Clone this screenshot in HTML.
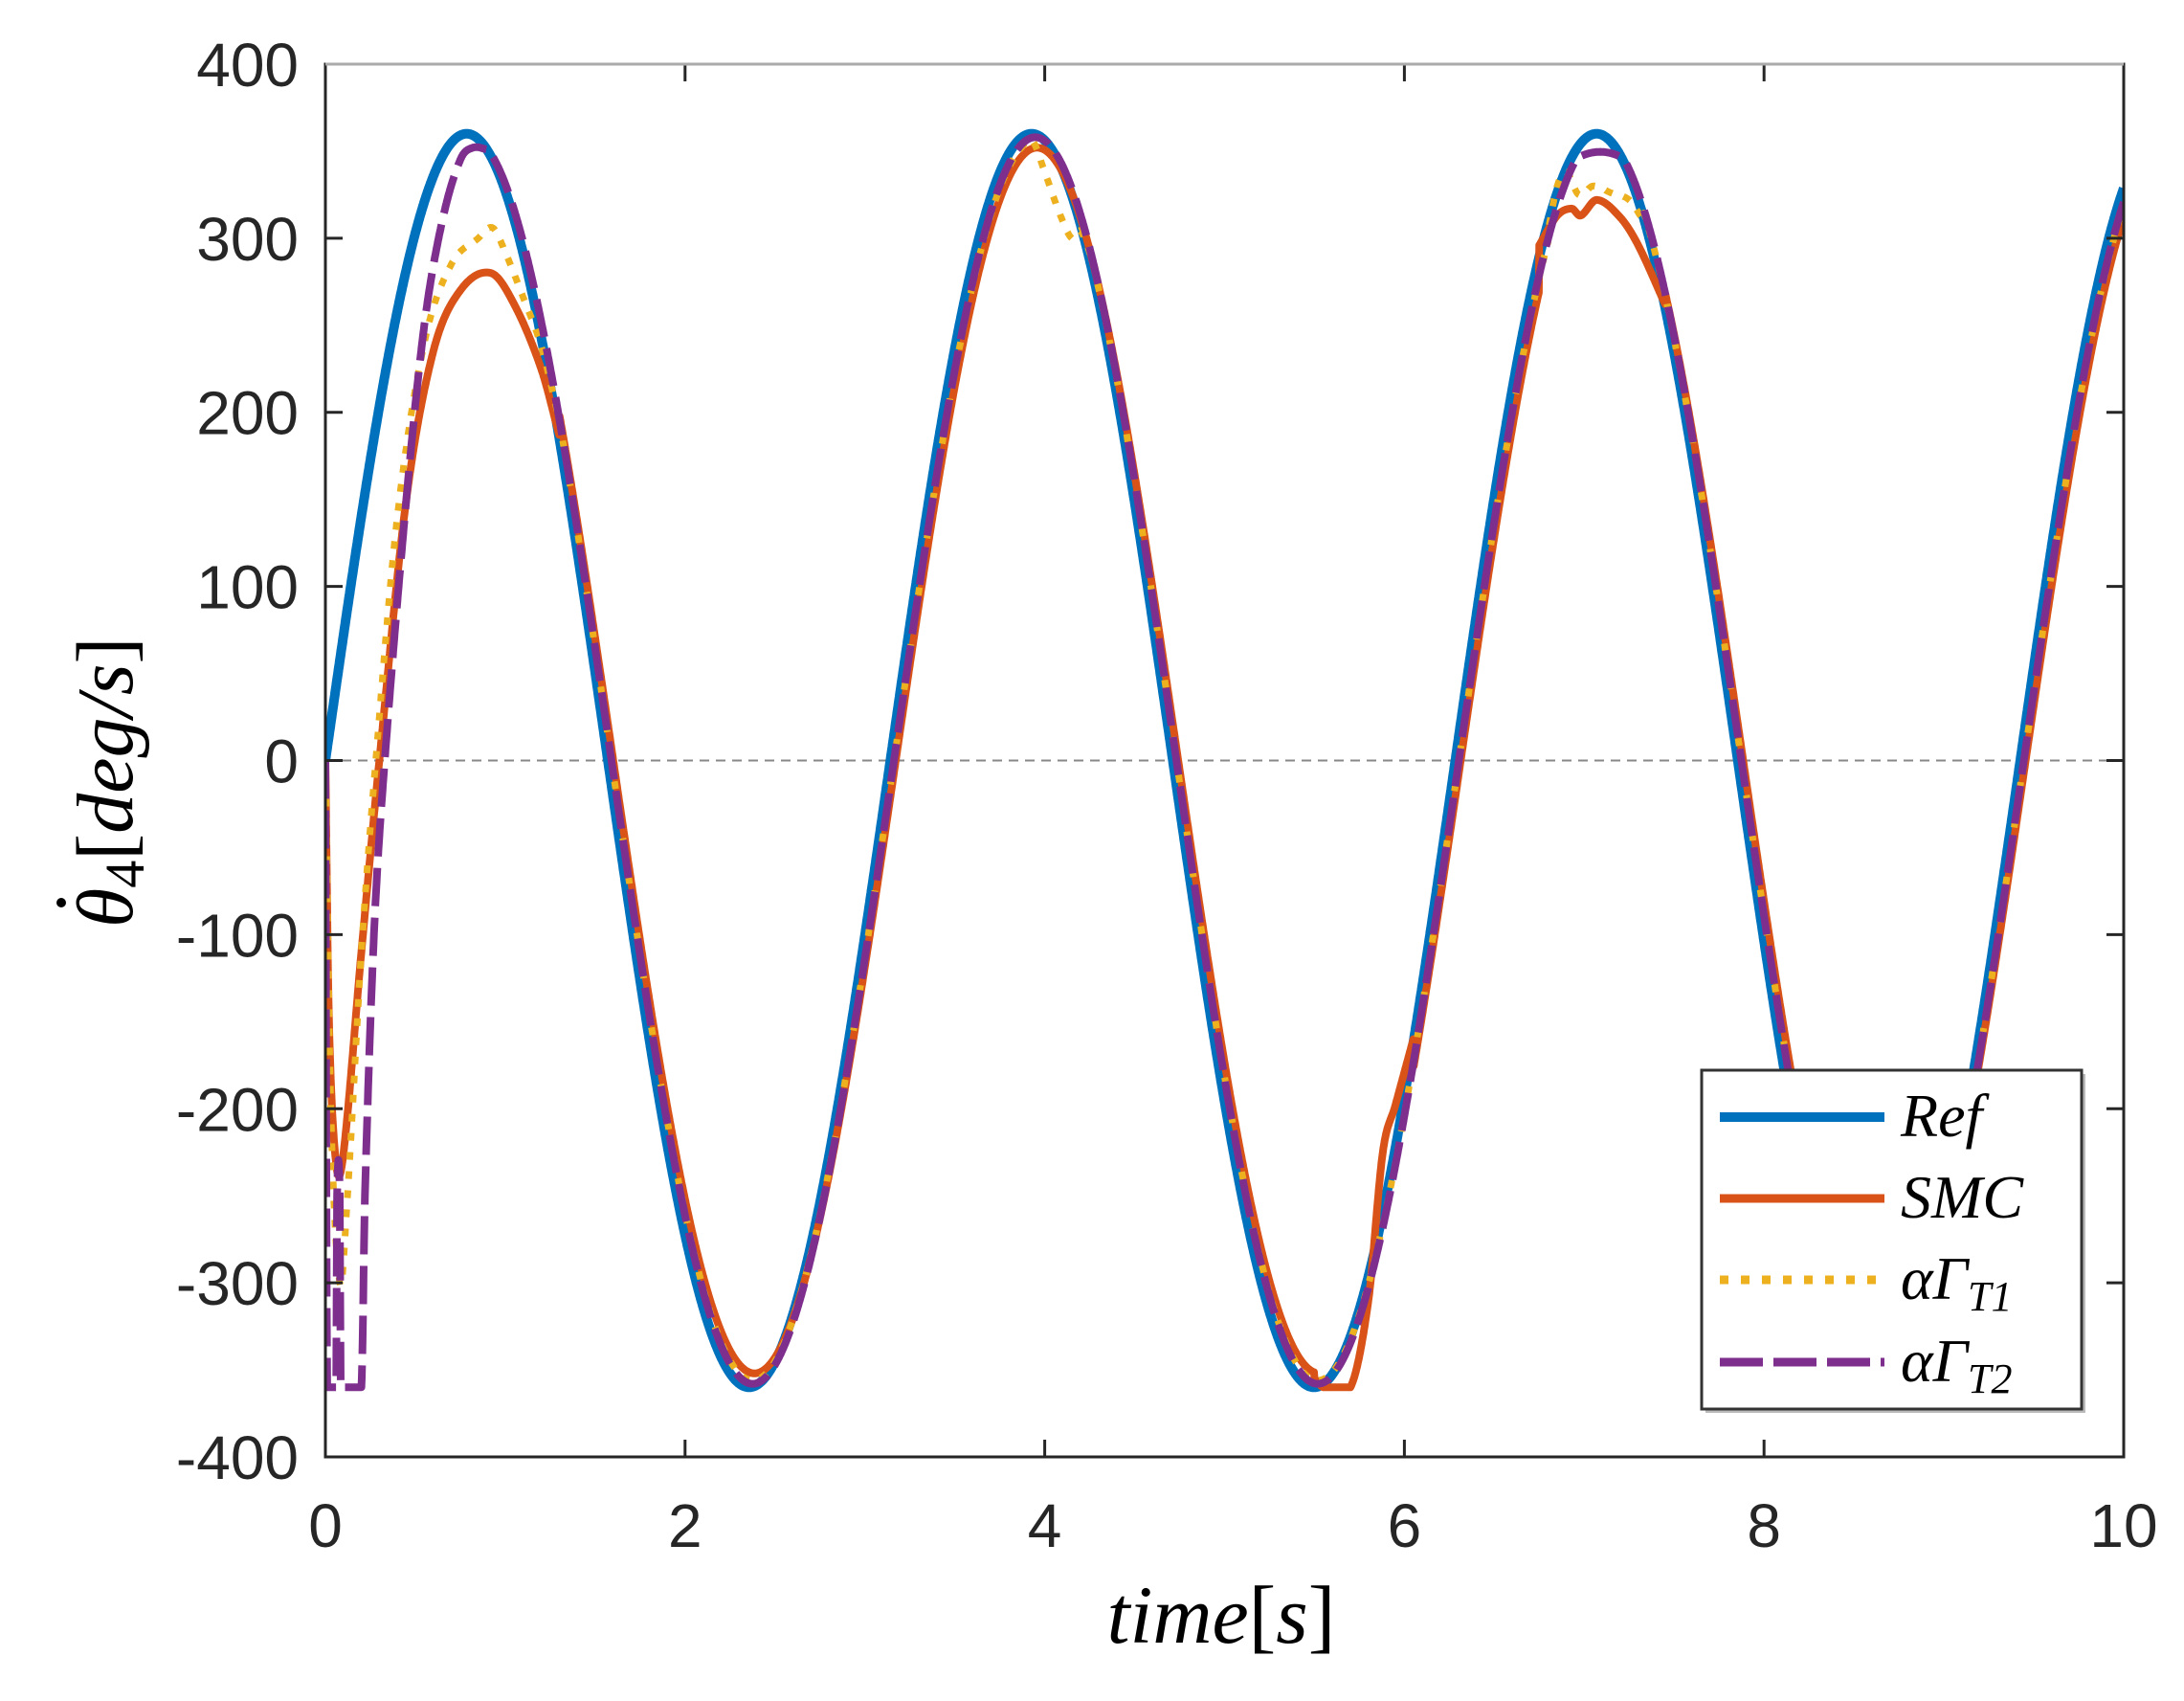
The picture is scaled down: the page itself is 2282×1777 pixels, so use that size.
<!DOCTYPE html>
<html><head><meta charset="utf-8">
<style>
html,body{margin:0;padding:0;background:#fff;}
svg{display:block;}
.tk{font-family:"Liberation Sans",sans-serif;font-size:64px;fill:#262626;}
.m{font-family:"Liberation Serif",serif;font-style:italic;fill:#000;}
</style></head>
<body>
<svg id="s" width="2282" height="1777" viewBox="0 0 2282 1777" xmlns="http://www.w3.org/2000/svg">
<rect width="2282" height="1777" fill="#fff"/>
<defs><clipPath id="c"><rect x="340" y="67" width="1879" height="1455"/></clipPath></defs>
<line x1="340" y1="794.5" x2="2219" y2="794.5" stroke="#888" stroke-width="2" stroke-dasharray="10,7"/>
<g id="curves" clip-path="url(#c)" fill="none" stroke-linejoin="round"></g>
<g id="ticks" stroke="#262626" stroke-width="3"></g>
<rect x="340" y="67" width="1879" height="1455" fill="none" stroke="#262626" stroke-width="3"/>
<line x1="340" y1="67" x2="2219" y2="67" stroke="#aaa" stroke-width="3"/>
<g id="labels"></g>
<!-- legend -->
<rect x="1782" y="1122" width="397" height="354" fill="#bbb"/>
<rect x="1778" y="1118" width="397" height="354" fill="#fff" stroke="#333" stroke-width="3"/>
<line x1="1797" y1="1167" x2="1969" y2="1167" stroke="#0072BD" stroke-width="10"/>
<line x1="1797" y1="1252" x2="1969" y2="1252" stroke="#D95319" stroke-width="9"/>
<line x1="1797" y1="1337" x2="1969" y2="1337" stroke="#EDB120" stroke-width="9" stroke-dasharray="9,13"/>
<line x1="1797" y1="1423" x2="1969" y2="1423" stroke="#7E2F8E" stroke-width="9" stroke-dasharray="45,11"/>
<text class="m" x="1986" y="1187" font-size="64">Ref</text>
<text class="m" x="1986" y="1272" font-size="64">SMC</text>
<text class="m" x="1986" y="1357" font-size="64">αΓ<tspan font-size="44" dy="12">T1</tspan></text>
<text class="m" x="1986" y="1443" font-size="64">αΓ<tspan font-size="44" dy="12">T2</tspan></text>
<!-- axis labels -->
<text class="m" x="1276" y="1716" font-size="86" text-anchor="middle">time<tspan font-style="normal">[</tspan>s<tspan font-style="normal">]</tspan></text>
<g transform="translate(138,797) rotate(-90)">
<text class="m" x="-172" y="0" font-size="84">θ<tspan font-style="normal" font-size="58" dy="12">4</tspan><tspan font-style="normal" dy="-12">[</tspan>deg/s<tspan font-style="normal">]</tspan></text>
<circle cx="-146" cy="-74" r="5" fill="#000"/>
</g>
</svg>
<script>
(function(){
var NS="http://www.w3.org/2000/svg";
function X(t){return 340+t*187.9;}
function Y(v){return 794.5-v*1.8188;}
function ref(t){return 360*Math.sin(2*t);}
function interp(k,t){for(var i=0;i<k.length-1;i++){if(t>=k[i][0]&&t<=k[i+1][0]){
 var p0=k[Math.max(0,i-1)],p1=k[i],p2=k[i+1],p3=k[Math.min(k.length-1,i+2)];
 var h=p2[0]-p1[0],a=(t-p1[0])/h;
 var m1=(p2[1]-p0[1])/(p2[0]-p0[0]||1)*h, m2=(p3[1]-p1[1])/(p3[0]-p1[0]||1)*h;
 if(i==0)m1=p2[1]-p1[1]; if(i+2>=k.length)m2=p2[1]-p1[1];
 var a2=a*a,a3=a2*a;
 return (2*a3-3*a2+1)*p1[1]+(a3-2*a2+a)*m1+(-2*a3+3*a2)*p2[1]+(a3-a2)*m2;}}return null;}
function mk(base,over){return function(t){for(var j=0;j<over.length;j++){var k=over[j];if(t>=k[0][0]&&t<=k[k.length-1][0])return Math.max(-360,interp(k,t));}return Math.max(-360,base(t));};}
var smc=mk(function(t){return 352*Math.sin(2*(t-0.03));},[
 [[0,0],[0.02,-150],[0.06,-232],[0.1,-226],[0.2,-110],[0.3,0],[0.45,150],[0.6,235],[0.75,270],[0.92,280],[1.05,262],[1.2,225],[1.3,187]],
 [[5.5,-355],[5.55,-360],[5.7,-360],[5.8,-310],[5.88,-225],[5.95,-198],[6.05,-160]],
 [[6.75,296],[6.85,313],[6.93,317],[6.98,313],[7.07,322],[7.2,312],[7.3,296],[7.45,262]]
]);
var t1=mk(function(t){return 356*Math.sin(2*(t-0.02));},[
 [[0,0],[0.03,-200],[0.08,-300],[0.12,-255],[0.2,-110],[0.28,0],[0.4,140],[0.55,240],[0.7,285],[0.85,300],[0.93,306],[1.0,292],[1.1,266],[1.2,238],[1.3,196]],
 [[3.85,350],[3.93,356],[4.0,338],[4.08,315],[4.15,300],[4.2,304],[4.28,283]],
 [[6.8,305],[6.85,330],[6.9,338],[6.97,325],[7.05,330],[7.15,326],[7.25,322],[7.33,310]]
]);
var t2=mk(function(t){var v=358*Math.sin(2*(t-0.02));if(t>6.8&&t<7.35)v=Math.min(v,346+ (v-346)*0.3);return v;},[
 [[0,0],[0.01,-360],[0.06,-360],[0.065,-250],[0.08,-250],[0.085,-360],[0.2,-360],[0.22,-250],[0.27,-100],[0.33,0],[0.45,150],[0.55,250],[0.65,310],[0.75,345],[0.82,352],[0.9,351]]
]);
var series=[[ref,"#0072BD",10,null],[smc,"#D95319",8,null],[t1,"#EDB120",7,"8,12"],[t2,"#7E2F8E",8,"40,12"]];
var g=document.getElementById("curves");
series.forEach(function(s){var d="";for(var i=0;i<=4000;i++){var t=i/400;d+=(i?"L":"M")+X(t).toFixed(1)+" "+Y(s[0](t)).toFixed(1);}
var p=document.createElementNS(NS,"path");p.setAttribute("d",d);p.setAttribute("stroke",s[1]);p.setAttribute("stroke-width",s[2]);if(s[3])p.setAttribute("stroke-dasharray",s[3]);g.appendChild(p);});
var tk=document.getElementById("ticks"),lb=document.getElementById("labels");
function ln(a,b,c,d){var l=document.createElementNS(NS,"line");l.setAttribute("x1",a);l.setAttribute("y1",b);l.setAttribute("x2",c);l.setAttribute("y2",d);tk.appendChild(l);}
function tx(x,y,s,anc){var e=document.createElementNS(NS,"text");e.setAttribute("class","tk");e.setAttribute("x",x);e.setAttribute("y",y);e.setAttribute("text-anchor",anc);e.textContent=s;lb.appendChild(e);}
for(var v=-400;v<=400;v+=100){var y=Y(v);ln(340,y,358,y);ln(2219,y,2201,y);tx(312,y+23,String(v),"end");}
for(var t=0;t<=10;t+=2){var x=X(t);ln(x,1522,x,1504);ln(x,67,x,85);tx(x,1616,String(t),"middle");}
})();
</script>
</body></html>
